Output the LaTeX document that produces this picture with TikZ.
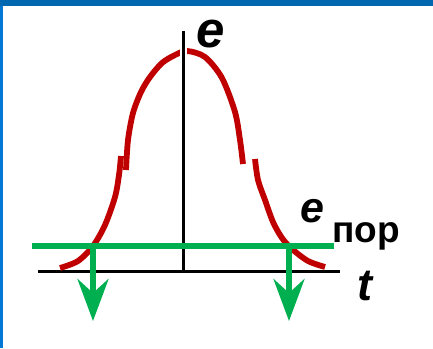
\documentclass[tikz,border=0pt]{standalone}
\usepackage{fontspec}
\setmainfont{Liberation Sans}
\usetikzlibrary{arrows.meta}
\definecolor{cred}{RGB}{192,0,0}
\definecolor{cgreen}{RGB}{0,176,80}
\definecolor{cblue}{RGB}{0,103,177}
\definecolor{cblueL}{RGB}{0,120,212}
\begin{document}
\begin{tikzpicture}[x=1pt,y=-1pt,
  curve/.style={cred, line width=5.8pt},
  ax/.style={black, line width=3pt},
  thr/.style={cgreen, line width=5.5pt},
  down/.style={cgreen, line width=5.5pt, -{Stealth[length=42pt,width=31pt,inset=14pt]}},
  lbl/.style={inner sep=0pt, anchor=base west}]
\useasboundingbox (0,0) rectangle (433,348);
\fill[white] (0,0) rectangle (433,348);
\fill[cblue] (0,0) rectangle (433,6);
\fill[cblueL] (0,6) rectangle (2.5,348);

\coordinate (ytop) at (183,31);
\coordinate (ybot) at (183,272);
\coordinate (xl) at (38,271);
\coordinate (xr) at (340,271);
\coordinate (gl) at (32,246);
\coordinate (gr) at (334,246);
\coordinate (a1) at (93,246);
\coordinate (a1t) at (93,321);
\coordinate (a2) at (289,246);
\coordinate (a2t) at (289,321);

\draw[ax] (xl) -- (xr);

\draw[curve] plot[smooth] coordinates {(60,268) (78,261) (93,246) (105,225) (115,197) (119,175) (121,156)};
\draw[curve] plot[smooth] coordinates {(126,170) (128,140) (133,113) (141,92) (150,77) (162,63) (175,55) (187,51) (205,57) (222,78) (235,112) (240,140) (243,164)};
\draw[curve] plot[smooth] coordinates {(255,159) (258,180) (265,200) (273,222) (282,238) (292,249) (308,261) (325,267)};

\draw[white, line width=7pt] (183,38) -- (183,66);
\draw[ax] (ytop) -- (ybot);

\draw[thr] (gl) -- (gr);
\draw[down] (a1) -- (a1t);
\draw[down] (a2) -- (a2t);

\node[lbl, font=\fontsize{51}{51}\selectfont\bfseries\itshape] (e) at (196,47) {e};
\node[lbl, font=\fontsize{43}{43}\selectfont\bfseries\itshape] (ep) at (300,222) {e};
\node[lbl, font=\fontsize{37}{37}\selectfont\bfseries] (por) at (332,242) {пор};
\node[lbl, font=\fontsize{45}{45}\selectfont\bfseries\itshape] (t) at (357,300) {t};
\end{tikzpicture}
\end{document}
